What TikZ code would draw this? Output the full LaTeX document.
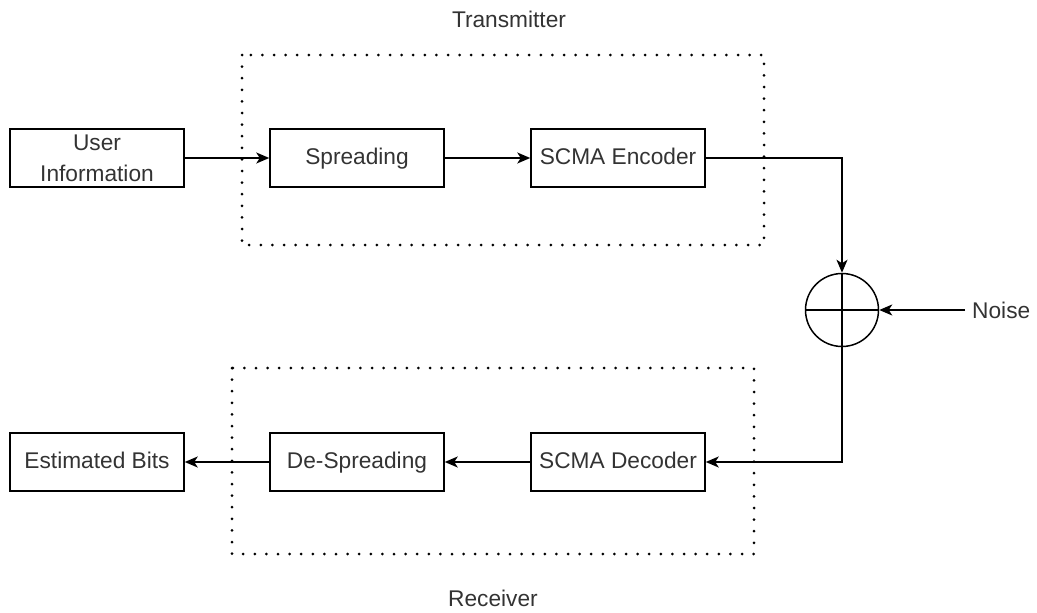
\documentclass[tikz,border=0pt]{standalone}
\usepackage{fontspec}
\setmainfont{Liberation Sans}
\usetikzlibrary{arrows.meta}
\tikzset{
  blockbox/.style={draw=black, line width=1.5pt, minimum width=174pt, minimum height=58pt, align=center, inner sep=2pt, text=black!80, text height=16.5pt, text depth=4.5pt},
  conn/.style={line width=1.5pt, -{Stealth[length=13pt,width=11pt,inset=3.5pt]}},
  dotbox/.style={line width=3pt, line cap=round, dash pattern=on 0pt off 11.6pt},
  lbl/.style={text=black!80, inner sep=0pt}
}
\begin{document}
\begin{tikzpicture}[x=1pt,y=-1pt, font=\fontsize{22.7}{26}\selectfont]
\useasboundingbox (0,0) rectangle (1037,613);
% containers
\draw[dotbox] (242,55) rectangle (764,245);
\draw[dotbox] (232,368) rectangle (754,554);
\node[lbl] (tx) at (509,19) {Transmitter};
\node[lbl] (rx) at (493,598) {Receiver};
% blocks
\node[blockbox, text height=, text depth=] (ui) at (97,158) {User\\[5pt]Information};
\node[blockbox] (sp) at (357,158) {Spreading};
\node[blockbox] (enc) at (618,158) {SCMA Encoder};
\node[blockbox] (dec) at (618,462) {SCMA Decoder};
\node[blockbox] (desp) at (357,462) {De-Spreading};
\node[blockbox] (est) at (97,462) {Estimated Bits};
% summer
\node[draw, circle, line width=1.5pt, minimum size=73pt, inner sep=0pt] (sum) at (842,310) {};
\draw[line width=1.5pt] (sum.north) -- (sum.south) (sum.west) -- (sum.east);
\node[lbl, anchor=west, inner xsep=7pt] (noise) at (965,310) {Noise};
% connectors
\draw[conn] (ui) -- (sp);
\draw[conn] (sp) -- (enc);
\draw[conn] (enc.east) -| (sum.north);
\draw[conn] (noise.west) -- (sum.east);
\draw[conn] (sum.south) |- (dec.east);
\draw[conn] (dec) -- (desp);
\draw[conn] (desp) -- (est);
\end{tikzpicture}
\end{document}
